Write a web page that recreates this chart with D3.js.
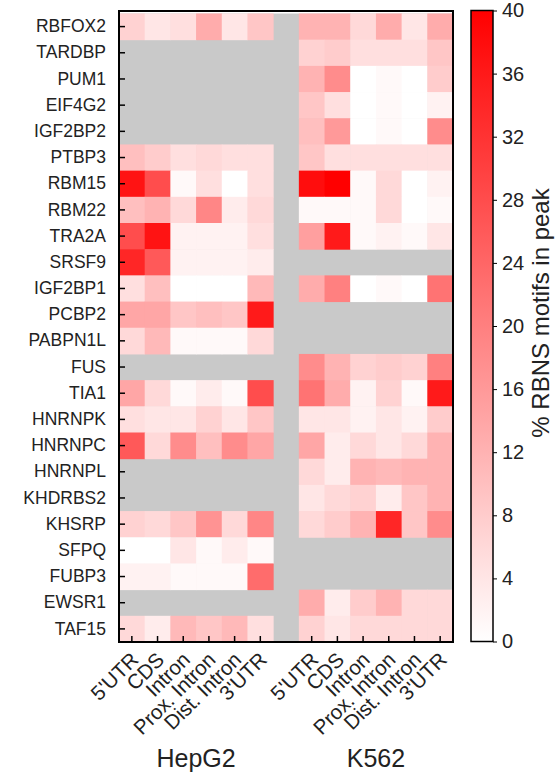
<!DOCTYPE html>
<html>
<head>
<meta charset="utf-8">
<script src="https://cdn.jsdelivr.net/npm/d3@7"></script>
<style>
  body { margin: 0; background: #fff; }
  text { font-family: "Liberation Sans", Arial, sans-serif; fill: #222; }
</style>
</head>
<body>
<svg width="556" height="772"></svg>
<script>
const width = 556;
const height = 772;

const genes = ["RBFOX2", "TARDBP", "PUM1", "EIF4G2", "IGF2BP2", "PTBP3", "RBM15", "RBM22",
    "TRA2A", "SRSF9", "IGF2BP1", "PCBP2", "PABPN1L", "FUS", "TIA1", "HNRNPK", "HNRNPC",
    "HNRNPL", "KHDRBS2", "KHSRP", "SFPQ", "FUBP3", "EWSR1", "TAF15"];
const regions = ["5'UTR", "CDS", "Intron", "Prox. Intron", "Dist. Intron", "3'UTR"];
const cellLines = ["HepG2", "K562"];

// % RBNS motifs in peak, null = not measured (grey)
const hepg2Values = [
    [7, 4, 5, 13, 4, 9],
    null, null, null, null,
    [10, 8, 5, 6, 5, 5],
    [37, 28, 1, 5, 0, 5],
    [10, 12, 6, 19, 3, 6],
    [28, 37, 2, 2, 2, 5],
    [34, 26, 2, 2, 2, 3],
    [5, 10, 0, 0, 0, 11],
    [14, 14, 9, 10, 9, 36],
    [6, 11, 1, 1, 1, 6],
    null,
    [14, 6, 1, 3, 1, 28],
    [5, 4, 4, 7, 4, 9],
    [26, 6, 18, 10, 18, 14],
    null, null,
    [7, 6, 9, 17, 6, 19],
    [0, 0, 4, 1, 3, 1],
    [2, 2, 1, 1, 1, 23],
    null,
    [6, 3, 11, 9, 11, 5]
];
const k562Values = [
    [12, 12, 6, 13, 4, 13],
    [7, 8, 5, 5, 5, 9],
    [12, 18, 0, 1, 0, 8],
    [9, 5, 0, 1, 0, 2],
    [10, 16, 0, 1, 0, 18],
    [9, 5, 5, 5, 5, 5],
    [38, 40, 1, 6, 0, 2],
    [1, 1, 1, 6, 0, 1],
    [15, 36, 1, 2, 1, 4],
    null,
    [13, 20, 0, 1, 0, 22],
    null, null,
    [18, 12, 7, 8, 7, 20],
    [22, 13, 2, 7, 1, 36],
    [4, 4, 2, 4, 2, 8],
    [14, 3, 6, 4, 6, 12],
    [6, 3, 12, 11, 12, 12],
    [4, 6, 7, 3, 9, 12],
    [6, 8, 12, 34, 9, 18],
    null, null,
    [13, 3, 8, 12, 6, 6],
    [7, 4, 6, 6, 6, 6]
];
const colorTicks = [0, 4, 8, 12, 16, 20, 24, 28, 32, 36, 40];

const svg = d3.select("svg");

const plot = { left: 119, right: 453, top: 11, cellTop: 13.5, bottom: 642 };

// column keys: 6 HepG2, one empty gap, 6 K562
const columns = [
    ...regions.map(r => "HepG2|" + r),
    "gap",
    ...regions.map(r => "K562|" + r)
];

const x = d3.scaleBand()
    .domain(columns)
    .range([plot.left, plot.right]);

const y = d3.scaleBand()
    .domain(genes)
    .range([plot.cellTop, plot.bottom]);

const color = d3.scaleLinear()
    .domain([0, 40])
    .range(["#ffffff", "#ff0000"])
    .clamp(true);

const cells = [];
genes.forEach((g, i) => {
    [[hepg2Values, "HepG2"], [k562Values, "K562"]].forEach(([vals, line]) => {
        if (!vals[i]) return;
        vals[i].forEach((v, j) => cells.push({ gene: g, col: line + "|" + regions[j], value: v }));
    });
});

// grey background = missing data
svg.append("rect")
    .attr("x", plot.left)
    .attr("y", plot.cellTop)
    .attr("width", plot.right - plot.left)
    .attr("height", plot.bottom - plot.cellTop)
    .attr("fill", "#c9c9c9");

svg.append("g")
    .selectAll("rect")
    .data(cells)
    .enter().append("rect")
    .attr("x", d => x(d.col))
    .attr("y", d => y(d.gene))
    .attr("width", x.bandwidth() + 0.5)
    .attr("height", y.bandwidth() + 0.5)
    .attr("fill", d => color(d.value));

// y axis
const yAxis = svg.append("g")
    .attr("transform", `translate(${plot.left},0)`)
    .call(d3.axisLeft(y).tickSize(-6).tickPadding(13));
yAxis.select(".domain").remove();
yAxis.selectAll("line").attr("stroke", "#000").attr("stroke-width", 1.5);
yAxis.selectAll("text").style("font-size", "17.5px").attr("fill", "#222");

// x axis
const xAxis = svg.append("g")
    .attr("transform", `translate(0,${plot.bottom})`)
    .call(d3.axisBottom(x)
        .tickValues(columns.filter(c => c !== "gap"))
        .tickFormat(d => d.split("|")[1])
        .tickSize(-6));
xAxis.select(".domain").remove();
xAxis.selectAll("line").attr("stroke", "#000").attr("stroke-width", 1.5);
xAxis.selectAll("text")
    .style("font-size", "20.5px")
    .attr("fill", "#222")
    .attr("text-anchor", "end")
    .attr("x", 0)
    .attr("y", 0)
    .attr("dy", 0)
    .attr("transform", "translate(8,19) rotate(-45)");

// frame
svg.append("rect")
    .attr("x", plot.left)
    .attr("y", plot.top)
    .attr("width", plot.right - plot.left)
    .attr("height", plot.bottom - plot.top)
    .attr("fill", "none")
    .attr("stroke", "#000")
    .attr("stroke-width", 2);

// cell line labels
svg.selectAll(".group-label")
    .data(cellLines)
    .enter().append("text")
    .attr("class", "group-label")
    .attr("x", d => {
        const first = x(d + "|" + regions[0]);
        const last = x(d + "|" + regions[regions.length - 1]) + x.bandwidth();
        return (first + last) / 2;
    })
    .attr("y", 767)
    .attr("text-anchor", "middle")
    .style("font-size", "25px")
    .text(d => d);

// colour bar
const bar = { x: 471, w: 22, top: 10.5, bottom: 641.5 };
const cScale = d3.scaleLinear().domain([0, 40]).range([bar.bottom, bar.top]);

const grad = svg.append("defs").append("linearGradient")
    .attr("id", "cbar")
    .attr("x1", 0).attr("y1", 1).attr("x2", 0).attr("y2", 0);
grad.selectAll("stop")
    .data([0, 40])
    .enter().append("stop")
    .attr("offset", d => d / 40)
    .attr("stop-color", d => color(d));

svg.append("rect")
    .attr("x", bar.x)
    .attr("y", bar.top)
    .attr("width", bar.w)
    .attr("height", bar.bottom - bar.top)
    .attr("fill", "url(#cbar)")
    .attr("stroke", "#000")
    .attr("stroke-width", 1.5);

const cAxis = svg.append("g")
    .attr("transform", `translate(${bar.x + bar.w},0)`)
    .call(d3.axisRight(cScale).tickValues(colorTicks).tickSize(4).tickPadding(5));
cAxis.select(".domain").remove();
cAxis.selectAll("line").attr("stroke", "#000");
cAxis.selectAll("text").style("font-size", "20px").attr("fill", "#222");

svg.append("text")
    .attr("transform", `translate(549,313) rotate(-90)`)
    .attr("text-anchor", "middle")
    .style("font-size", "24px")
    .text("% RBNS motifs in peak");
</script>
</body>
</html>
